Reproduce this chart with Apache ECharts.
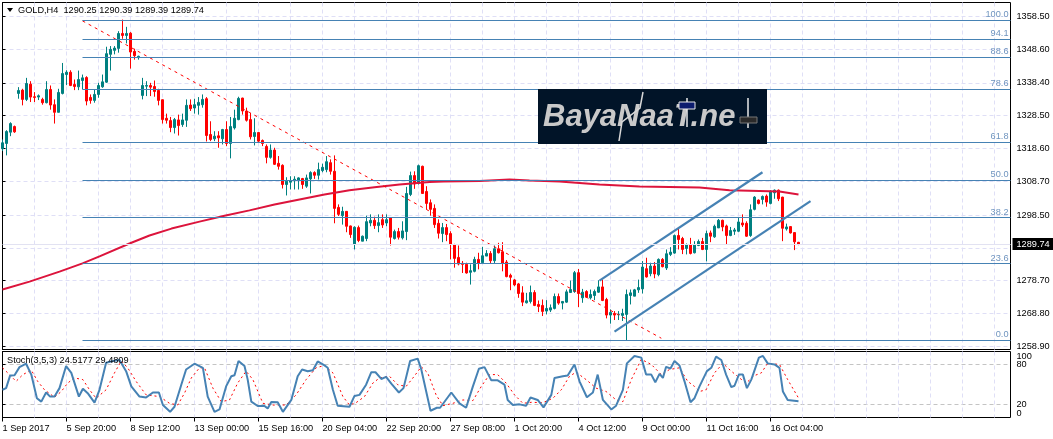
<!DOCTYPE html>
<html>
<head>
<meta charset="utf-8">
<title>GOLD H4</title>
<script src="https://cdn.jsdelivr.net/npm/echarts@6/dist/echarts.min.js"></script>
<style>
html, body { margin: 0; padding: 0; background: #fff; }
#chart { width: 1053px; height: 439px; }
</style>
</head>
<body>
<div id="chart"></div>
<script>
// open, close, low, high
const candles = [
[1318.5,1320.3,1317.8,1321.3],[1320.1,1323.7,1316.5,1324.1],[1323.5,1326.1,1322.3,1326.5],[1325.2,1323.6,1323.3,1325.5],
[1335.2,1336.1,1333.6,1337.1],[1336.2,1333.4,1331.6,1336.6],[1333.4,1338.2,1332.9,1339.9],[1338.0,1334.1,1332.6,1338.9],
[1334.2,1334.0,1332.6,1335.6],[1334.1,1334.5,1333.2,1334.9],[1333.4,1332.4,1331.8,1333.9],[1332.4,1336.4,1332.2,1338.9],
[1336.4,1331.7,1330.3,1337.6],[1331.8,1329.5,1326.1,1333.4],[1329.5,1335.5,1329.5,1336.6],[1335.2,1341.2,1334.9,1344.4],
[1340.9,1341.6,1337.7,1342.2],[1341.6,1337.6,1337.4,1342.2],[1337.9,1337.3,1336.2,1339.4],[1337.2,1339.4,1336.2,1342.1],
[1339.1,1339.9,1336.4,1340.9],[1340.0,1332.9,1331.6,1340.4],[1334.0,1333.1,1332.1,1334.9],[1333.1,1334.9,1332.4,1336.4],
[1334.9,1337.6,1333.9,1338.4],[1337.2,1338.7,1336.9,1340.9],[1338.6,1347.2,1338.4,1349.3],[1347.0,1348.5,1342.1,1349.5],
[1348.2,1348.9,1347.0,1349.5],[1348.8,1353.3,1347.5,1354.0],[1353.3,1352.7,1351.7,1357.5],[1352.7,1353.3,1350.3,1355.3],
[1353.4,1347.7,1342.7,1353.7],[1347.9,1346.6,1345.4,1348.7],[1346.0,1346.4,1345.4,1346.6],[1334.6,1337.6,1333.4,1339.9],
[1337.4,1337.6,1334.4,1338.9],[1337.6,1337.1,1334.4,1338.4],[1337.3,1335.8,1334.2,1339.1],[1336.1,1333.1,1331.6,1336.6],
[1333.3,1327.3,1326.1,1333.4],[1327.7,1327.1,1326.1,1329.1],[1327.0,1324.9,1323.5,1328.1],[1324.9,1327.3,1323.1,1327.8],
[1327.2,1325.5,1322.5,1328.8],[1325.8,1327.2,1325.1,1329.1],[1327.1,1331.6,1325.1,1333.4],[1331.7,1330.6,1329.9,1333.4],
[1330.8,1331.8,1329.1,1333.6],[1331.6,1332.5,1328.8,1334.1],[1331.8,1333.4,1330.9,1334.9],[1333.6,1322.5,1320.7,1334.1],
[1322.8,1321.3,1320.8,1326.8],[1321.5,1322.3,1320.8,1323.8],[1322.4,1321.8,1318.8,1323.8],[1321.5,1324.3,1319.8,1324.5],
[1324.3,1320.1,1319.3,1326.8],[1320.1,1325.2,1315.6,1328.1],[1324.8,1327.7,1324.3,1330.3],[1327.3,1333.7,1327.1,1334.2],
[1333.8,1329.9,1328.8,1333.9],[1329.9,1327.1,1326.7,1330.9],[1327.3,1322.1,1321.3,1329.3],[1322.2,1323.4,1319.5,1327.7],
[1323.4,1320.8,1320.3,1323.5],[1321.0,1320.1,1319.3,1321.3],[1319.2,1315.9,1314.1,1319.8],[1315.9,1318.1,1315.5,1319.8],
[1318.1,1313.8,1313.6,1318.8],[1314.1,1313.2,1312.2,1316.3],[1313.5,1307.7,1306.5,1313.8],[1307.7,1308.7,1304.4,1309.9],
[1308.4,1308.9,1306.2,1310.2],[1308.8,1309.3,1306.2,1310.2],[1309.0,1309.7,1306.2,1309.9],[1309.5,1307.7,1306.4,1309.7],
[1307.2,1309.7,1306.7,1310.7],[1309.4,1311.3,1305.0,1311.7],[1311.3,1310.5,1309.4,1311.7],[1310.5,1312.2,1309.2,1314.3],
[1311.9,1312.9,1311.4,1314.0],[1312.2,1314.6,1311.4,1316.3],[1314.3,1311.7,1310.7,1315.3],[1311.7,1300.5,1296.0,1316.5],
[1300.8,1298.7,1298.2,1301.7],[1298.3,1299.6,1295.6,1301.0],[1299.6,1295.1,1293.3,1299.7],[1295.2,1292.6,1291.6,1295.3],
[1289.6,1294.8,1288.1,1295.1],[1294.7,1290.8,1290.3,1295.3],[1290.6,1292.1,1290.6,1292.3],[1291.4,1296.5,1290.6,1298.3],
[1296.1,1296.9,1295.1,1298.7],[1296.9,1295.3,1294.3,1298.0],[1295.3,1296.2,1293.3,1298.7],[1297.1,1295.5,1294.6,1298.7],
[1296.1,1297.1,1295.1,1298.7],[1297.6,1291.8,1289.3,1297.7],[1291.4,1293.5,1291.1,1294.1],[1293.5,1291.8,1291.1,1294.6],
[1291.6,1293.7,1291.1,1296.6],[1293.5,1305.0,1290.9,1307.0],[1304.7,1310.4,1304.2,1311.6],[1310.4,1307.9,1306.4,1311.7],
[1308.0,1313.4,1307.7,1313.7],[1313.2,1305.0,1305.0,1313.4],[1305.6,1302.0,1300.2,1307.2],[1302.2,1300.2,1298.3,1303.2],
[1300.5,1295.6,1294.6,1301.7],[1296.0,1293.0,1291.4,1297.2],[1292.9,1294.7,1290.3,1296.1],[1294.7,1292.6,1290.6,1295.8],
[1292.9,1289.6,1285.1,1293.6],[1289.6,1285.4,1282.6,1289.8],[1285.7,1283.7,1283.3,1289.3],[1283.9,1283.6,1281.0,1284.6],
[1283.6,1281.0,1280.8,1284.1],[1281.2,1281.7,1277.5,1283.6],[1281.5,1285.1,1281.2,1285.9],[1285.1,1283.9,1282.1,1287.1],
[1284.1,1286.2,1283.8,1288.9],[1286.1,1286.9,1286.1,1287.9],[1286.9,1284.7,1283.9,1287.6],[1284.7,1288.3,1283.9,1289.3],
[1288.3,1287.1,1286.9,1290.1],[1287.4,1283.9,1281.5,1290.3],[1284.3,1279.9,1279.7,1284.9],[1280.3,1279.7,1275.8,1280.8],
[1278.9,1277.4,1277.0,1279.2],[1277.7,1274.8,1273.5,1278.0],[1275.0,1272.2,1271.0,1277.0],[1272.0,1272.6,1271.8,1275.0],
[1272.4,1275.1,1271.8,1277.2],[1275.1,1271.2,1271.0,1275.8],[1271.5,1270.9,1269.2,1272.7],[1271.2,1269.4,1268.0,1273.0],
[1269.5,1270.3,1268.5,1272.8],[1269.8,1270.5,1269.2,1271.5],[1270.3,1273.9,1270.0,1274.8],[1273.9,1271.9,1271.4,1274.8],
[1271.9,1272.4,1270.0,1272.5],[1272.2,1275.3,1272.0,1276.0],[1275.1,1276.0,1275.0,1278.7],[1275.4,1281.1,1275.0,1281.6],
[1281.1,1274.8,1270.7,1282.2],[1273.5,1275.2,1272.0,1276.2],[1275.4,1273.7,1273.5,1275.8],[1273.5,1274.5,1273.0,1276.0],
[1274.2,1275.4,1272.8,1276.0],[1275.2,1276.8,1275.0,1278.8],[1276.8,1272.7,1272.5,1279.0],[1273.0,1268.3,1267.3,1273.5],
[1268.3,1269.1,1265.7,1270.0],[1268.8,1268.3,1266.8,1269.5],[1268.4,1268.5,1266.8,1269.5],[1268.2,1268.8,1266.5,1270.2],
[1268.5,1274.5,1260.7,1276.0],[1274.2,1275.0,1271.5,1276.0],[1274.0,1275.9,1274.0,1276.2],[1275.9,1276.6,1275.0,1279.0],
[1276.2,1282.8,1274.8,1284.6],[1282.3,1279.8,1279.6,1285.6],[1280.8,1283.1,1280.0,1284.1],[1283.1,1280.7,1279.4,1284.3],
[1280.5,1285.1,1280.0,1285.4],[1285.1,1282.9,1282.7,1285.5],[1282.5,1286.8,1281.9,1288.1],[1286.6,1287.3,1286.1,1288.8],
[1287.0,1292.3,1286.8,1292.6],[1292.3,1291.1,1288.1,1294.4],[1291.4,1288.1,1286.7,1291.9],[1288.4,1289.6,1286.6,1289.9],
[1289.6,1286.9,1286.6,1291.6],[1287.1,1289.6,1286.9,1290.6],[1289.3,1290.5,1289.1,1291.1],[1290.5,1288.1,1287.9,1291.6],
[1288.1,1292.9,1284.5,1293.8],[1293.1,1292.1,1290.3,1293.8],[1291.9,1295.1,1291.6,1295.6],[1294.6,1296.9,1294.6,1297.3],
[1296.9,1294.9,1293.6,1297.1],[1295.2,1292.3,1289.6,1295.6],[1292.3,1293.8,1292.1,1294.9],[1293.6,1294.0,1292.5,1294.6],
[1293.6,1296.4,1293.3,1297.6],[1296.1,1295.5,1294.9,1298.7],[1296.0,1292.1,1291.9,1296.6],[1292.3,1300.1,1291.9,1301.7],
[1300.2,1303.9,1299.9,1304.2],[1303.0,1302.0,1301.7,1303.2],[1303.2,1304.1,1301.7,1304.4],[1304.2,1302.4,1301.0,1304.7],
[1302.0,1305.7,1301.7,1306.0],[1305.2,1306.0,1303.4,1306.2],[1306.0,1303.4,1302.7,1306.2],[1303.9,1294.5,1290.6,1304.0],
[1294.3,1294.9,1293.8,1295.9],[1295.0,1293.1,1292.9,1295.1],[1293.2,1290.4,1287.9,1293.3],[1290.25,1289.74,1289.39,1290.39]
]

// moving average at these bars
const maBars = [0,6.75,14.25,20,24.25,31.75,36.75,42.25,49.25,55.5,61.75,68,74.25,80.5,86.75,93,99.25,106.75,110.25,119.25,126.75,131.75,139.25,149.25,159.25,174.25,181.75,194.25,199]
const maPrices = [1276.0,1278.4,1281.4,1283.9,1286.0,1289.9,1292.3,1294.4,1296.5,1298.3,1299.9,1301.7,1303.2,1304.7,1306.0,1306.9,1307.7,1308.5,1308.6,1308.8,1309.2,1308.9,1308.6,1307.7,1307.1,1306.8,1306.0,1305.6,1304.7]

// fibonacci levels
const fibNames = ['100.0','94.1','88.6','78.6','61.8','50.0','38.2','23.6','0.0']
const fibPrices = [1357.4,1351.7,1346.25,1336.6,1320.6,1309.1,1297.7,1283.8,1260.8]

// trend line and channel end points
const trendBars = [20,164.7]
const trendPrices = [1357.1,1261.3]
const channelUpBars = [149.25,190]
const channelUpPrices = [1278.7,1311.4]
const channelLowBars = [153,202]
const channelLowPrices = [1263.3,1302.7]

// stochastic
const stochMainBars = [0,0.9,1.9,3,4.25,5.9,7.2,8.6,9.7,10.9,11.9,13,14.25,15.9,17.2,19.1,20.1,21.3,23,24.25,25.9,27.6,29.25,30.9,32.2,34.25,35.9,37.6,39.1,40.1,41.9,43,44.7,45.9,48,50.1,51.3,53,54.25,55.9,57.2,58,59,60.5,61.3,62.2,63.8,65.5,66.3,67.2,68.8,70.1,72.2,73.8,74.9,76.3,77.6,78.8,80.5,81.3,82.6,83.8,86.75,88,89.25,90.9,92.2,93.25,94.7,95.9,97.2,99.1,100.25,101.9,103.8,104.7,107,108.6,109.4,112.2,114.25,115.9,117.6,119.1,120.5,122.2,123.8,125.5,126.3,127.6,129.25,130.9,132,133.8,135.25,137.2,138,140.1,141.3,143,144.25,146.1,147.6,148.8,150.1,152.2,153.4,155.1,156.1,158,159.7,160.9,162.2,163.2,164.25,165.1,165.9,167,168,169.25,170.5,172,173,174.25,176.1,177.2,178.4,179.7,180.9,182.2,183,184.1,185.1,186.1,187.2,189.1,190.1,191.3,193,194.25,195.1,196.3,199]
const stochMainValues = [42,44.5,63.5,64,76.3,81.5,65,29.2,24,37.9,31.7,31.7,44.5,77.9,67.6,31.7,43.5,36.9,22.5,42,83,85.6,87.1,70.2,47.1,31.7,30.2,37.9,37.9,18.9,8.6,16.3,49.7,72.7,81.5,75.3,31.7,8.6,12.2,47.1,62.5,64,85.6,77.9,57.4,24,17.4,17.4,13.8,23.5,23,8.6,26.6,62.5,72.7,70.2,71.7,85,78.9,75.3,42,17.9,16.3,32.7,34.3,49.7,68.6,68.6,58.4,61.5,51.2,37.9,44.5,85.6,89.2,72.7,10.2,14.8,14.8,37.9,21.5,14.8,47.1,73.8,76.3,56.3,56.3,49.7,26.6,18.9,19.9,17.9,30.2,26.6,15.3,34.3,59.9,62.5,63.5,80.4,54.8,30.7,37.9,65,26.6,12.2,17.9,42,82,93.3,90.7,65,65,53.3,66.1,59.9,76.8,74.3,85.6,78.9,54.8,23,29.2,47.1,70.2,75.3,92.2,87.1,65,46.1,48.1,65,65,44.5,57.4,90.7,93.3,82,80.4,75.3,39.4,26.6,24.5177]
const stochSignalBars = [0,1.75,3.4,5.1,7.2,8.8,10.5,13,14.7,16.3,18,20.1,21.75,23.4,25.9,28,29.7,31.3,33.4,35.9,39.25,41.75,43.8,45.5,47.2,49.25,50.5,52.6,54.7,56.75,58.8,60.9,62.6,65.1,67.6,70.9,73.4,75.9,78.4,80.5,82.6,85.1,86.75,88.4,90.5,92.6,94.25,96.75,98.8,100.9,102.6,104.7,106.3,108.4,110.1,112.6,115.1,117.6,119.7,121.75,123.8,125.9,128,130.1,132.2,135.1,137.6,139.7,141.75,143.4,145.9,148.4,150.9,153.4,155.1,157.2,159.7,162.2,164.7,166.75,169.25,171.3,173,174.25,175.9,178,180.1,182.2,184.25,185.9,188,189.7,191.3,194.25,196.3,199]
const stochSignalValues = [75.3,65,54.8,65,71.7,54.8,42,30.7,39.4,52.2,59.9,57.4,42,29.2,42,67.6,85.6,75.3,54.8,34.3,31.7,21.5,18.9,36.9,59.9,75.3,75.3,44.5,24,26.6,52.2,70.2,57.4,21.5,18.9,18.9,34.3,57.4,75.3,78.9,67.6,31.7,18.9,22.5,31.7,52.2,59.9,62.5,49.7,47.1,59.9,76.8,67.6,34.3,17.9,21.5,26.6,25.6,47.1,65,65,52.2,34.3,21.5,23,22.5,29.2,42,62.5,68.6,57.4,44.5,39.4,26.6,24,57.4,88.1,80.4,65,72.7,75.3,54.8,47.1,39.4,42,67.6,82,70.2,59.9,52.2,63.5,67.6,82,80.4,57.4,29.4809]

// axis labels
const priceTicks = [1358.5,1348.6,1338.4,1328.5,1318.6,1308.7,1298.5,1288.6,1278.7,1268.8,1258.9]
const lastPrice = 1289.74
const stochEdgeTicks = [0,100]
const stochLevelTicks = [20,80]
const dateBars = [0,16,32,48,64,80,96,112,128,144,160,176,192]
const dateLabels = ['1 Sep 2017','5 Sep 20:00','8 Sep 12:00','13 Sep 00:00','15 Sep 16:00','20 Sep 04:00','22 Sep 20:00','27 Sep 08:00','1 Oct 20:00','4 Oct 12:00','9 Oct 00:00','11 Oct 16:00','16 Oct 04:00']

const FONT = '"Liberation Sans", sans-serif'
const FONT_SIZE = 9.2
const GRID_DASH = { color: '#dfdff6', type: [4, 3], width: 1 }
const BLUE = '#4682b4'

function zipPoints(xs, ys) {
    return xs.map((x, i) => [x, ys[i]])
}

function barAxis(gridIndex) {
    return {
        type: 'value',
        gridIndex: gridIndex,
        min: 0,
        max: 252,
        interval: 16,
        axisLine: { show: false },
        axisTick: { show: false },
        axisLabel: { show: false },
        splitLine: { show: true, showMinLine: false, showMaxLine: false, lineStyle: GRID_DASH },
        minorTick: { show: false, splitNumber: 2 },
        minorSplitLine: { show: true, lineStyle: GRID_DASH }
    }
}

function overlayLine(name, xs, ys, color, width, type) {
    return {
        type: 'line',
        name: name,
        xAxisIndex: 0,
        yAxisIndex: 0,
        data: zipPoints(xs, ys),
        showSymbol: false,
        silent: true,
        z: 4,
        lineStyle: { color: color, width: width, type: type || 'solid' }
    }
}

const option = {
    animation: false,
    backgroundColor: '#fff',
    textStyle: { fontFamily: FONT },
    grid: [
        { left: 2.5, top: 2.5, width: 1008, height: 347, outerBoundsMode: 'none', show: true, borderColor: '#000', borderWidth: 1, backgroundColor: 'transparent' },
        { left: 2.5, top: 351.5, width: 1008, height: 66, outerBoundsMode: 'none', show: true, borderColor: '#000', borderWidth: 1, backgroundColor: 'transparent' }
    ],
    xAxis: [
        barAxis(0),
        barAxis(1),
        {
            type: 'value',
            gridIndex: 1,
            position: 'bottom',
            min: 0,
            max: 252,
            axisLine: { show: false },
            splitLine: { show: false },
            axisTick: { show: true, length: 4, lineStyle: { color: '#000' }, customValues: dateBars },
            axisLabel: {
                customValues: dateBars,
                align: 'left',
                margin: 6,
                color: '#000',
                fontFamily: FONT,
                fontSize: FONT_SIZE,
                showMinLabel: true,
                formatter: v => dateLabels[dateBars.indexOf(v)]
            }
        }
    ],
    yAxis: [
        {
            type: 'value',
            gridIndex: 0,
            position: 'right',
            min: 1257.9,
            max: 1362.65,
            axisLine: { show: true, lineStyle: { color: '#000' } },
            axisTick: { show: true, length: 3, lineStyle: { color: '#000' }, customValues: priceTicks },
            splitLine: { show: true, lineStyle: GRID_DASH },
            axisLabel: {
                customValues: priceTicks.concat([lastPrice]),
                margin: 2,
                formatter: v => (v === lastPrice ? '{last|' : '{tick|') + v.toFixed(2) + '}',
                rich: {
                    tick: { color: '#000', fontFamily: FONT, fontSize: FONT_SIZE, padding: [0, 0, 0, 4] },
                    last: { color: '#fff', backgroundColor: '#000', fontFamily: FONT, fontSize: FONT_SIZE, padding: [2, 6, 1, 4] }
                }
            }
        },
        {
            type: 'value',
            gridIndex: 1,
            position: 'right',
            min: 0,
            max: 100,
            axisLine: { show: true, lineStyle: { color: '#000' } },
            axisTick: { show: true, length: 3, lineStyle: { color: '#000' }, customValues: stochEdgeTicks },
            splitLine: { show: false },
            axisLabel: {
                customValues: stochEdgeTicks,
                margin: 6,
                color: '#000',
                fontFamily: FONT,
                fontSize: FONT_SIZE,
                showMinLabel: true,
                showMaxLabel: true,
                verticalAlignMaxLabel: 'top',
                verticalAlignMinLabel: 'bottom'
            }
        },
        {
            type: 'value',
            gridIndex: 1,
            position: 'right',
            min: 0,
            max: 100,
            axisLine: { show: false },
            axisTick: { show: true, length: 3, lineStyle: { color: '#000' }, customValues: stochLevelTicks },
            splitLine: { show: true, lineStyle: { color: '#c4c4c4', type: [4, 3], width: 1 } },
            axisLabel: {
                customValues: stochLevelTicks,
                margin: 6,
                color: '#000',
                fontFamily: FONT,
                fontSize: FONT_SIZE
            }
        }
    ],
    series: [
        {
            type: 'line',
            name: 'fib',
            xAxisIndex: 0,
            yAxisIndex: 0,
            data: [],
            silent: true,
            z: 1,
            markLine: {
                silent: true,
                symbol: 'none',
                animation: false,
                lineStyle: { color: BLUE, width: 1, type: 'solid' },
                label: {
                    position: 'insideEndTop',
                    formatter: '{b}',
                    distance: [2, 1],
                    color: '#6f94bf',
                    fontFamily: FONT,
                    fontSize: FONT_SIZE
                },
                data: fibNames.map((name, i) => [
                    { name: name, coord: [20, fibPrices[i]] },
                    { coord: [252, fibPrices[i]] }
                ]).concat([[
                    { name: '', coord: [0, lastPrice], lineStyle: { color: '#e2e2f2', width: 1 } },
                    { coord: [252, lastPrice] }
                ]])
            }
        },
        {
            type: 'candlestick',
            name: 'GOLD,H4',
            xAxisIndex: 0,
            yAxisIndex: 0,
            barWidth: 2,
            z: 3,
            silent: true,
            encode: { x: 0, y: [1, 2, 3, 4] },
            data: candles.map((c, i) => [i, c[0], c[1], c[2], c[3]]),
            itemStyle: { color: '#008080', color0: '#ff0000', borderColor: '#008080', borderColor0: '#ff0000', borderWidth: 1 }
        },
        overlayLine('MA', maBars, maPrices, '#dc143c', 2),
        overlayLine('Trend', trendBars, trendPrices, '#ff0000', 1, [3, 4]),
        overlayLine('Channel up', channelUpBars, channelUpPrices, BLUE, 2.2),
        overlayLine('Channel low', channelLowBars, channelLowPrices, BLUE, 2.2),
        {
            type: 'line',
            name: 'Signal',
            xAxisIndex: 1,
            yAxisIndex: 1,
            data: zipPoints(stochSignalBars, stochSignalValues),
            showSymbol: false,
            silent: true,
            lineStyle: { color: '#ff0000', width: 1, type: [2, 3] }
        },
        {
            type: 'line',
            name: 'Stoch',
            xAxisIndex: 1,
            yAxisIndex: 1,
            data: zipPoints(stochMainBars, stochMainValues),
            showSymbol: false,
            silent: true,
            z: 3,
            lineStyle: { color: BLUE, width: 2 }
        }
    ],
    graphic: [
        { type: 'polygon', silent: true, shape: { points: [[7, 8], [13, 8], [10, 12]] }, style: { fill: '#000' } },
        { type: 'text', silent: true, x: 18, y: 6, style: { text: 'GOLD,H4  1290.25 1290.39 1289.39 1289.74', font: FONT_SIZE + 'px ' + FONT, fill: '#000' }, z: 10 },
        { type: 'text', silent: true, x: 7, y: 356, style: { text: 'Stoch(3,5,3) 24.5177 29.4809', font: FONT_SIZE + 'px ' + FONT, fill: '#000' }, z: 10 },
        { type: 'rect', silent: true, z: 20, shape: { x: 538, y: 89, width: 229, height: 55 }, style: { fill: '#011428' } },
        { type: 'text', silent: true, z: 21, x: 543, y: 102, style: { text: 'BayaNaaT.ne', font: 'italic bold 31px ' + FONT, fill: '#c9c9c9' } },
        { type: 'polyline', silent: true, z: 22, shape: { points: [[643, 92], [640, 108], [622, 122], [619, 141]] }, style: { stroke: '#d8d8d8', lineWidth: 1.5, fill: 'none' } },
        { type: 'line', silent: true, z: 22, shape: { x1: 687, y1: 98, x2: 687, y2: 127 }, style: { stroke: '#e8e8e8', lineWidth: 1.5 } },
        { type: 'rect', silent: true, z: 23, shape: { x: 679, y: 102, width: 16, height: 7 }, style: { fill: '#0c1c6e', stroke: '#e8e8e8', lineWidth: 1 } },
        { type: 'line', silent: true, z: 22, shape: { x1: 748, y1: 98, x2: 748, y2: 128 }, style: { stroke: '#e8e8e8', lineWidth: 1.5 } },
        { type: 'rect', silent: true, z: 23, shape: { x: 740, y: 117, width: 17, height: 6 }, style: { fill: '#2a2a2a', stroke: '#777', lineWidth: 1 } }
    ]
}

document.addEventListener('DOMContentLoaded', function() {
    const chart = echarts.init(document.getElementById('chart'), null, { renderer: 'canvas' })
    chart.setOption(option)
})
</script>
</body>
</html>
